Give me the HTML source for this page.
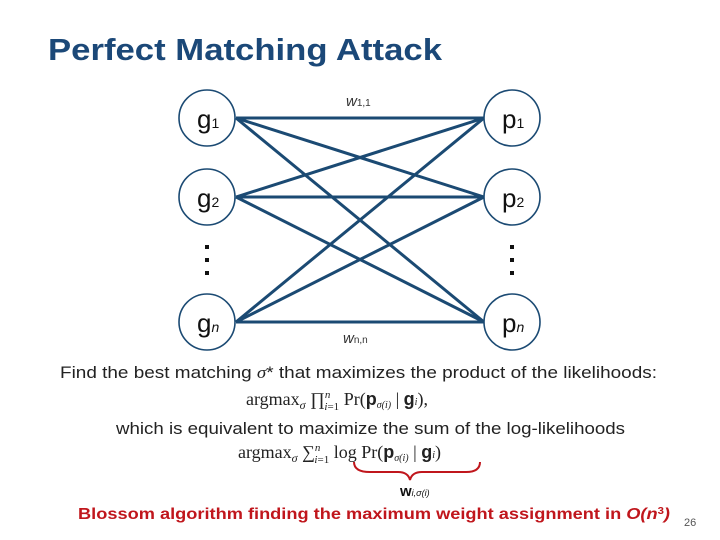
<!DOCTYPE html>
<html><head><meta charset="utf-8"><style>
html,body{margin:0;padding:0;background:#fff;}
svg{display:block;font-family:"Liberation Sans",sans-serif;}
</style></head><body>
<svg width="720" height="540" viewBox="0 0 720 540" xmlns="http://www.w3.org/2000/svg">
<text x="48" y="60" font-size="31" font-weight="bold" fill="#1b4878" textLength="394" lengthAdjust="spacingAndGlyphs">Perfect Matching Attack</text>
<g stroke="#1b4a73" stroke-width="3" fill="none">
<line x1="236" y1="118" x2="484" y2="118"/>
<line x1="236" y1="118" x2="484" y2="197"/>
<line x1="236" y1="118" x2="484" y2="322"/>
<line x1="236" y1="197" x2="484" y2="118"/>
<line x1="236" y1="197" x2="484" y2="197"/>
<line x1="236" y1="197" x2="484" y2="322"/>
<line x1="236" y1="322" x2="484" y2="118"/>
<line x1="236" y1="322" x2="484" y2="197"/>
<line x1="236" y1="322" x2="484" y2="322"/>
</g>
<g stroke="#1b4a73" stroke-width="1.6" fill="#fff">
<circle cx="207" cy="118" r="28"/><circle cx="207" cy="197" r="28"/><circle cx="207" cy="322" r="28"/>
<circle cx="512" cy="118" r="28"/><circle cx="512" cy="197" r="28"/><circle cx="512" cy="322" r="28"/>
</g>
<g font-size="26" fill="#111">
<text x="197" y="128">g<tspan font-size="14">1</tspan></text>
<text x="197" y="207">g<tspan font-size="14">2</tspan></text>
<text x="197" y="332">g<tspan font-size="14" font-style="italic">n</tspan></text>
<text x="502" y="128">p<tspan font-size="14">1</tspan></text>
<text x="502" y="207">p<tspan font-size="14">2</tspan></text>
<text x="502" y="332">p<tspan font-size="14" font-style="italic">n</tspan></text>
</g>
<g fill="#111"><rect x="205" y="245" width="4" height="4"/><rect x="205" y="258" width="4" height="4"/><rect x="205" y="271" width="4" height="4"/>
<rect x="510" y="245" width="4" height="4"/><rect x="510" y="258" width="4" height="4"/><rect x="510" y="271" width="4" height="4"/></g>
<text x="346" y="106" font-size="15" fill="#333" font-style="italic">w<tspan font-size="10" font-style="normal">1,1</tspan></text>
<text x="343" y="343" font-size="15" fill="#333" font-style="italic">w<tspan font-size="10" font-style="normal">n,n</tspan></text>
<text x="60" y="378" font-size="17" fill="#222" textLength="597" lengthAdjust="spacingAndGlyphs">Find the best matching <tspan font-family="Liberation Serif" font-style="italic">σ</tspan>* that maximizes the product of the likelihoods:</text>
<text x="246" y="405" font-size="18" fill="#222" font-family="Liberation Serif">argmax<tspan font-size="12" font-style="italic" dy="4">σ</tspan><tspan dy="-4"> ∏</tspan><tspan font-size="11" font-style="italic" dy="-7">n</tspan><tspan font-size="11" dx="-6" dy="12" font-style="italic">i</tspan><tspan font-size="11" dy="0">=1</tspan><tspan dy="-5"> Pr(</tspan><tspan font-family="Liberation Sans" font-weight="bold">p</tspan><tspan font-size="10" font-style="italic" dy="3">σ(i)</tspan><tspan dy="-3"> | </tspan><tspan font-family="Liberation Sans" font-weight="bold">g</tspan><tspan font-size="10" font-style="italic">i</tspan>),</text>
<text x="116" y="434" font-size="17" fill="#222" textLength="509" lengthAdjust="spacingAndGlyphs">which is equivalent to maximize the sum of the log-likelihoods</text>
<text x="238" y="458" font-size="18" fill="#222" font-family="Liberation Serif">argmax<tspan font-size="12" font-style="italic" dy="4">σ</tspan><tspan dy="-4"> ∑</tspan><tspan font-size="11" font-style="italic" dy="-7">n</tspan><tspan font-size="11" dx="-6" dy="12" font-style="italic">i</tspan><tspan font-size="11">=1</tspan><tspan dy="-5"> log Pr(</tspan><tspan font-family="Liberation Sans" font-weight="bold">p</tspan><tspan font-size="10" font-style="italic" dy="3">σ(i)</tspan><tspan dy="-3"> | </tspan><tspan font-family="Liberation Sans" font-weight="bold">g</tspan><tspan font-size="10" font-style="italic">i</tspan>)</text>
<path d="M354 462 Q354 472 370 472 L398 472 Q408 472 410 480 Q412 472 422 472 L466 472 Q480 472 480 462" stroke="#c0161c" stroke-width="2" fill="none"/>
<text x="400" y="496" font-size="15" fill="#111" font-weight="bold">w<tspan font-size="9" font-style="italic" font-weight="normal">i,σ(i)</tspan></text>
<text x="78" y="519" font-size="16" font-weight="bold" fill="#c0161c" textLength="592" lengthAdjust="spacingAndGlyphs">Blossom algorithm finding the maximum weight assignment in <tspan font-style="italic">O(n</tspan><tspan font-size="10" dy="-5">3</tspan><tspan dy="5" font-style="italic">)</tspan></text>
<text x="684" y="526" font-size="11" fill="#555">26</text>
</svg>
</body></html>
